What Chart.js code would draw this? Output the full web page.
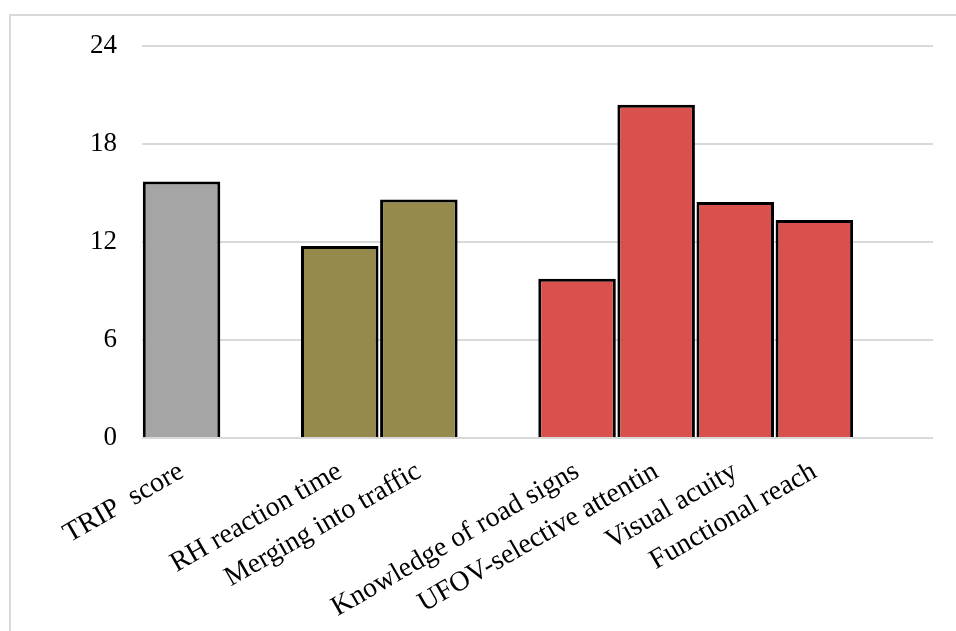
<!DOCTYPE html>
<html>
<head>
<meta charset="utf-8">
<script src="https://cdn.jsdelivr.net/npm/chart.js@4"></script>
<style>
  html, body { margin: 0; padding: 0; background: #fff; }
  #wrap { position: relative; width: 956px; height: 631px; }
  #frame { position: absolute; left: 9px; top: 14px; right: -5px; bottom: -5px;
           border-left: 2px solid #d9d9d9; border-top: 2px solid #d9d9d9; pointer-events: none; }
  canvas { position: absolute; left: 0; top: 0; }
</style>
</head>
<body>
<div id="wrap">
  <canvas id="c" width="956" height="631"></canvas>
  <div id="frame"></div>
</div>
<script>
// Categories (empty strings are spacer slots between groups)
const categories = ["TRIP  score", "", "RH reaction time", "Merging into traffic", "",
  "Knowledge of road signs", "UFOV-selective attentin", "Visual acuity", "Functional reach", ""];
// Values (null = empty spacer slot)
const values = [15.7, null, 11.75, 14.6, null, 9.75, 20.4, 14.45, 13.35, null];
// Group of each slot
const groups = ["trip", null, "olive", "olive", null, "red", "red", "red", "red", null];
const groupColors = { trip: "#a5a5a5", olive: "#958a4b", red: "#d9504d" };
const yTicks = [0, 6, 12, 18, 24];

const FONT = "'Liberation Serif', 'Times New Roman', serif";

new Chart(document.getElementById("c"), {
  type: "bar",
  data: {
    labels: categories,
    datasets: [{
      data: values,
      backgroundColor: groups.map(g => g ? groupColors[g] : "rgba(0,0,0,0)"),
      borderColor: "#000",
      borderWidth: 3,
      barPercentage: 0.98,
      categoryPercentage: 1.0
    }]
  },
  options: {
    responsive: false,
    animation: false,
    devicePixelRatio: 1,
    layout: { padding: { left: 0, right: 23, top: 46, bottom: 0 } },
    plugins: { legend: { display: false }, tooltip: { enabled: false } },
    scales: {
      x: {
        grid: { display: false },
        border: { display: false },
        ticks: {
          color: "#000",
          font: { family: FONT, size: 28 },
          autoSkip: false,
          minRotation: 30,
          maxRotation: 30,
          padding: 9
        },
        afterFit: s => { s.height = 631 - 438; }
      },
      y: {
        min: 0, max: 24,
        afterBuildTicks: s => { s.ticks = yTicks.map(v => ({ value: v })); },
        grid: { color: "#d9d9d9", lineWidth: 2, drawTicks: false },
        border: { display: false },
        ticks: {
          color: "#000",
          font: { family: FONT, size: 27 },
          padding: 25
        },
        afterFit: s => { s.width = 142; }
      }
    }
  }
});
</script>
</body>
</html>
